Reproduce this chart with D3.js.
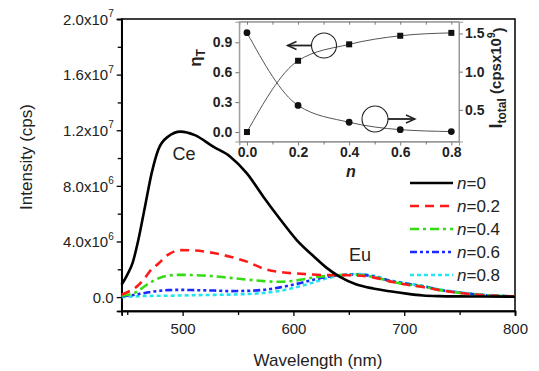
<!DOCTYPE html>
<html>
<head>
<meta charset="utf-8">
<script src="https://cdn.jsdelivr.net/npm/d3@7"></script>
<style>
  body { margin: 0; background: #fff; }
  svg { font-family: "Liberation Sans", Arial, sans-serif; }
</style>
</head>
<body>
<svg id="chart" width="539" height="371"></svg>
<script>
// wavelength grid (nm) and intensities (x10^6 cps)
var wavelengths = [445, 450, 455, 460, 466, 472, 478, 487, 498, 511, 528, 543, 558, 573, 588, 603, 618, 630, 642, 657, 672, 687, 702, 717, 732, 750, 770, 800];
var n0  = [0.9, 1.6, 2.5, 4.1, 6.5, 8.9, 10.6, 11.55, 11.9, 11.65, 10.8, 10.1, 8.9, 7.2, 5.6, 4.1, 2.95, 2.1, 1.45, 0.9, 0.62, 0.42, 0.25, 0.12, 0.07, 0.05, 0.04, 0.03];
var n02 = [0.18, 0.35, 0.55, 0.85, 1.4, 2.0, 2.4, 3.05, 3.38, 3.35, 3.17, 2.9, 2.55, 2.05, 1.8, 1.7, 1.62, 1.58, 1.58, 1.55, 1.42, 1.13, 0.9, 0.72, 0.5, 0.3, 0.15, 0.05];
var n04 = [0.1, 0.15, 0.25, 0.45, 0.8, 1.1, 1.35, 1.55, 1.6, 1.58, 1.5, 1.38, 1.26, 1.15, 1.1, 1.2, 1.4, 1.52, 1.58, 1.6, 1.45, 1.13, 0.9, 0.75, 0.5, 0.3, 0.15, 0.05];
var n06 = [0.05, 0.1, 0.15, 0.22, 0.3, 0.38, 0.44, 0.5, 0.52, 0.5, 0.47, 0.43, 0.45, 0.52, 0.7, 0.95, 1.25, 1.45, 1.57, 1.62, 1.48, 1.17, 0.95, 0.78, 0.52, 0.32, 0.15, 0.05];
var n08 = [0.0, 0.02, 0.04, 0.06, 0.08, 0.09, 0.1, 0.1, 0.12, 0.14, 0.16, 0.18, 0.22, 0.3, 0.45, 0.72, 1.05, 1.35, 1.55, 1.66, 1.55, 1.2, 1.0, 0.8, 0.55, 0.35, 0.18, 0.06];
var seriesNames = ["0", "0.2", "0.4", "0.6", "0.8"];

var xTicks = [500, 600, 700, 800];
var xMinor = [450, 550, 650, 750];
var yTicks = [0, 4e6, 8e6, 1.2e7, 1.6e7, 2e7];
var yTickLabels = [["0.0", ""], ["4.0x10", "6"], ["8.0x10", "6"], ["1.2x10", "7"], ["1.6x10", "7"], ["2.0x10", "7"]];
var yMinor = [2e6, 6e6, 1e7, 1.4e7, 1.8e7];

// inset: eta_T (squares, left axis) and I_total (circles, right axis, x10^9 cps)
var insetN = [0, 0.2, 0.4, 0.6, 0.8];
var etaT = [0.0, 0.715, 0.88, 0.966, 0.995];
var iTotal = [1.51, 0.557, 0.337, 0.24, 0.215];
var insetXTicks = [0, 0.2, 0.4, 0.6, 0.8];
var insetYTicks = [0, 0.3, 0.6, 0.9];
var insetY2Ticks = [0.5, 1.0, 1.5];

var svg = d3.select("#chart");

var x = d3.scaleLinear().domain([445, 800]).range([121.7, 515]);
var y = d3.scaleLinear().domain([-1e6, 2e7]).range([311, 19]);

// frame
svg.append("rect").attr("x", 121.7).attr("y", 19).attr("width", 515 - 121.7).attr("height", 311 - 19)
  .attr("fill", "none").attr("stroke", "#000").attr("stroke-width", 1.5);

var gx = svg.append("g").attr("transform", "translate(0,311)")
  .call(d3.axisBottom(x).tickValues(xTicks).tickSize(5).tickPadding(7).tickFormat(d3.format("d")));
svg.append("g").attr("transform", "translate(0,311)")
  .call(d3.axisBottom(x).tickValues(xMinor).tickSize(4).tickFormat(""));

var gy = svg.append("g").attr("transform", "translate(121.7,0)")
  .call(d3.axisLeft(y).tickValues(yTicks).tickSize(5).tickPadding(3).tickFormat(""));
svg.append("g").attr("transform", "translate(121.7,0)")
  .call(d3.axisLeft(y).tickValues(yMinor).tickSize(4).tickFormat(""));

svg.selectAll(".domain").attr("stroke-width", 1.5);
svg.selectAll(".tick line").attr("stroke-width", 1.3);
gx.selectAll("text").attr("font-size", 15).attr("fill", "#222").attr("font-family", "Liberation Sans, Arial");

gy.selectAll(".tick").each(function(d, i) {
  var t = d3.select(this).append("text").attr("x", -8).attr("dy", "0.35em")
    .attr("text-anchor", "end").attr("font-size", 15).attr("fill", "#222");
  t.append("tspan").text(yTickLabels[i][0]);
  if (yTickLabels[i][1]) {
    t.append("tspan").attr("font-size", 10).attr("dy", "-0.75em").text(yTickLabels[i][1]);
  }
});

svg.append("text").attr("x", 318).attr("y", 366).attr("text-anchor", "middle")
  .attr("font-size", 17).attr("fill", "#222").text("Wavelength (nm)");
svg.append("text").attr("transform", "translate(32,157) rotate(-90)").attr("text-anchor", "middle")
  .attr("font-size", 17).attr("fill", "#222").text("Intensity (cps)");

// spectra
var styles = [
  { color: "#000000", dash: null, width: 2.6 },
  { color: "#ff1a1a", dash: "9,6", width: 2.6 },
  { color: "#33dd11", dash: "9,4,3,4", width: 2.6 },
  { color: "#1a2aff", dash: "7,3,3,3,3,3", width: 2.6 },
  { color: "#22e5f0", dash: "4,3", width: 2.6 }
];
var allSeries = [n0, n02, n04, n06, n08];
var line = d3.line()
  .x(function(d, i) { return x(wavelengths[i]); })
  .y(function(d) { return y(d * 1e6); })
  .curve(d3.curveMonotoneX);

// draw later series first so black sits on top like the original
[4, 3, 2, 1, 0].forEach(function(k) {
  svg.append("path").datum(allSeries[k]).attr("d", line)
    .attr("fill", "none").attr("stroke", styles[k].color)
    .attr("stroke-width", styles[k].width)
    .attr("stroke-dasharray", styles[k].dash);
});

svg.append("text").attr("x", 184).attr("y", 160).attr("text-anchor", "middle")
  .attr("font-size", 18).attr("fill", "#222").text("Ce");
svg.append("text").attr("x", 360).attr("y", 261).attr("text-anchor", "middle")
  .attr("font-size", 18).attr("fill", "#222").text("Eu");

// legend
var legend = svg.append("g");
seriesNames.forEach(function(name, i) {
  var ly = 183 + i * 23;
  legend.append("line").attr("x1", 410).attr("x2", 453).attr("y1", ly).attr("y2", ly)
    .attr("stroke", styles[i].color).attr("stroke-width", 2.6)
    .attr("stroke-dasharray", styles[i].dash);
  var t = legend.append("text").attr("x", 457).attr("y", ly).attr("dy", "0.36em")
    .attr("font-size", 17).attr("fill", "#222");
  t.append("tspan").attr("font-style", "italic").text("n");
  t.append("tspan").text("=" + name);
});

// inset
var ix = d3.scaleLinear().domain([-0.03, 0.83]).range([239.3, 459]);
var iy = d3.scaleLinear().domain([-0.095, 1.107]).range([141.5, 21.7]);
var iy2 = d3.scaleLinear().domain([0.085, 1.654]).range([141.5, 21.7]);
var inset = svg.append("g");

inset.append("rect").attr("x", 239.3).attr("y", 21.7).attr("width", 459 - 239.3).attr("height", 141.5 - 21.7)
  .attr("fill", "#fff").attr("stroke", "#999").attr("stroke-width", 1);

var igx = inset.append("g").attr("transform", "translate(0,141.5)")
  .call(d3.axisBottom(ix).tickValues(insetXTicks).tickSize(4).tickPadding(2).tickFormat(d3.format(".1f")));
inset.append("g").attr("transform", "translate(0,141.5)")
  .call(d3.axisBottom(ix).tickValues([0.1, 0.3, 0.5, 0.7]).tickSize(3).tickFormat(""));
inset.append("g").attr("transform", "translate(0,21.7)")
  .call(d3.axisBottom(ix).tickValues([0, 0.1, 0.2, 0.3, 0.4, 0.5, 0.6, 0.7, 0.8]).tickSize(3).tickFormat(""));
var igy = inset.append("g").attr("transform", "translate(239.3,0)")
  .call(d3.axisLeft(iy).tickValues(insetYTicks).tickSize(4).tickPadding(3).tickFormat(d3.format(".1f")));
var igy2 = inset.append("g").attr("transform", "translate(459,0)")
  .call(d3.axisRight(iy2).tickValues(insetY2Ticks).tickSize(4).tickPadding(2).tickFormat(d3.format(".1f")));
inset.selectAll(".domain").attr("stroke", "#999").attr("stroke-width", 1);
inset.selectAll(".tick line").attr("stroke", "#777");
[igx, igy, igy2].forEach(function(g) {
  g.selectAll("text").attr("font-size", 14).attr("font-weight", "bold").attr("fill", "#222")
    .attr("font-family", "Liberation Sans, Arial");
});

var etaLine = d3.line().x(function(d, i) { return ix(insetN[i]); }).y(function(d) { return iy(d); })
  .curve(d3.curveMonotoneX);
var totLine = d3.line().x(function(d, i) { return ix(insetN[i]); }).y(function(d) { return iy2(d); })
  .curve(d3.curveMonotoneX);
inset.append("path").datum(etaT).attr("d", etaLine).attr("fill", "none").attr("stroke", "#555").attr("stroke-width", 1);
inset.append("path").datum(iTotal).attr("d", totLine).attr("fill", "none").attr("stroke", "#555").attr("stroke-width", 1);

inset.selectAll(".sq").data(etaT).enter().append("rect")
  .attr("x", function(d, i) { return ix(insetN[i]) - 3; })
  .attr("y", function(d) { return iy(d) - 3; })
  .attr("width", 6).attr("height", 6).attr("fill", "#111");
inset.selectAll(".dot").data(iTotal).enter().append("circle")
  .attr("cx", function(d, i) { return ix(insetN[i]); })
  .attr("cy", function(d) { return iy2(d); })
  .attr("r", 3.4).attr("fill", "#111");

// circle + arrow annotations
function arrow(cx, cy, r, dir, len) {
  inset.append("circle").attr("cx", cx).attr("cy", cy).attr("r", r)
    .attr("fill", "none").attr("stroke", "#222").attr("stroke-width", 1.1);
  var x0 = cx + dir * r, x1 = x0 + dir * len;
  inset.append("line").attr("x1", x0).attr("x2", x1).attr("y1", cy).attr("y2", cy)
    .attr("stroke", "#222").attr("stroke-width", 1.8);
  inset.append("path").attr("d", "M" + (x1 - dir * 9) + "," + (cy - 4) + "L" + x1 + "," + cy + "L" + (x1 - dir * 9) + "," + (cy + 4))
    .attr("fill", "none").attr("stroke", "#222").attr("stroke-width", 1.4);
}
arrow(324, 45.5, 12.5, -1, 24);
arrow(375, 119, 13, 1, 27);

// inset labels
var eta = inset.append("text").attr("transform", "translate(201,58) rotate(-90)").attr("text-anchor", "middle")
  .attr("font-size", 17).attr("font-weight", "bold").attr("fill", "#222");
eta.append("tspan").text("\u03B7");
eta.append("tspan").attr("font-size", 12).attr("dy", "0.35em").text("T");

inset.append("text").attr("x", 351).attr("y", 177).attr("text-anchor", "middle")
  .attr("font-size", 16).attr("font-weight", "bold").attr("font-style", "italic").attr("fill", "#222").text("n");

var it = inset.append("text").attr("transform", "translate(502,78) rotate(-90)").attr("text-anchor", "middle")
  .attr("font-size", 15).attr("font-weight", "bold").attr("fill", "#222");
it.append("tspan").attr("font-size", 18).text("I");
it.append("tspan").attr("font-size", 12).attr("dy", "0.35em").text("total");
it.append("tspan").attr("dy", "-0.35em").text(" (cpsx10");
it.append("tspan").attr("font-size", 10).attr("dy", "-0.6em").text("9");
it.append("tspan").attr("dy", "0.6em").text(")");
</script>
</body>
</html>
